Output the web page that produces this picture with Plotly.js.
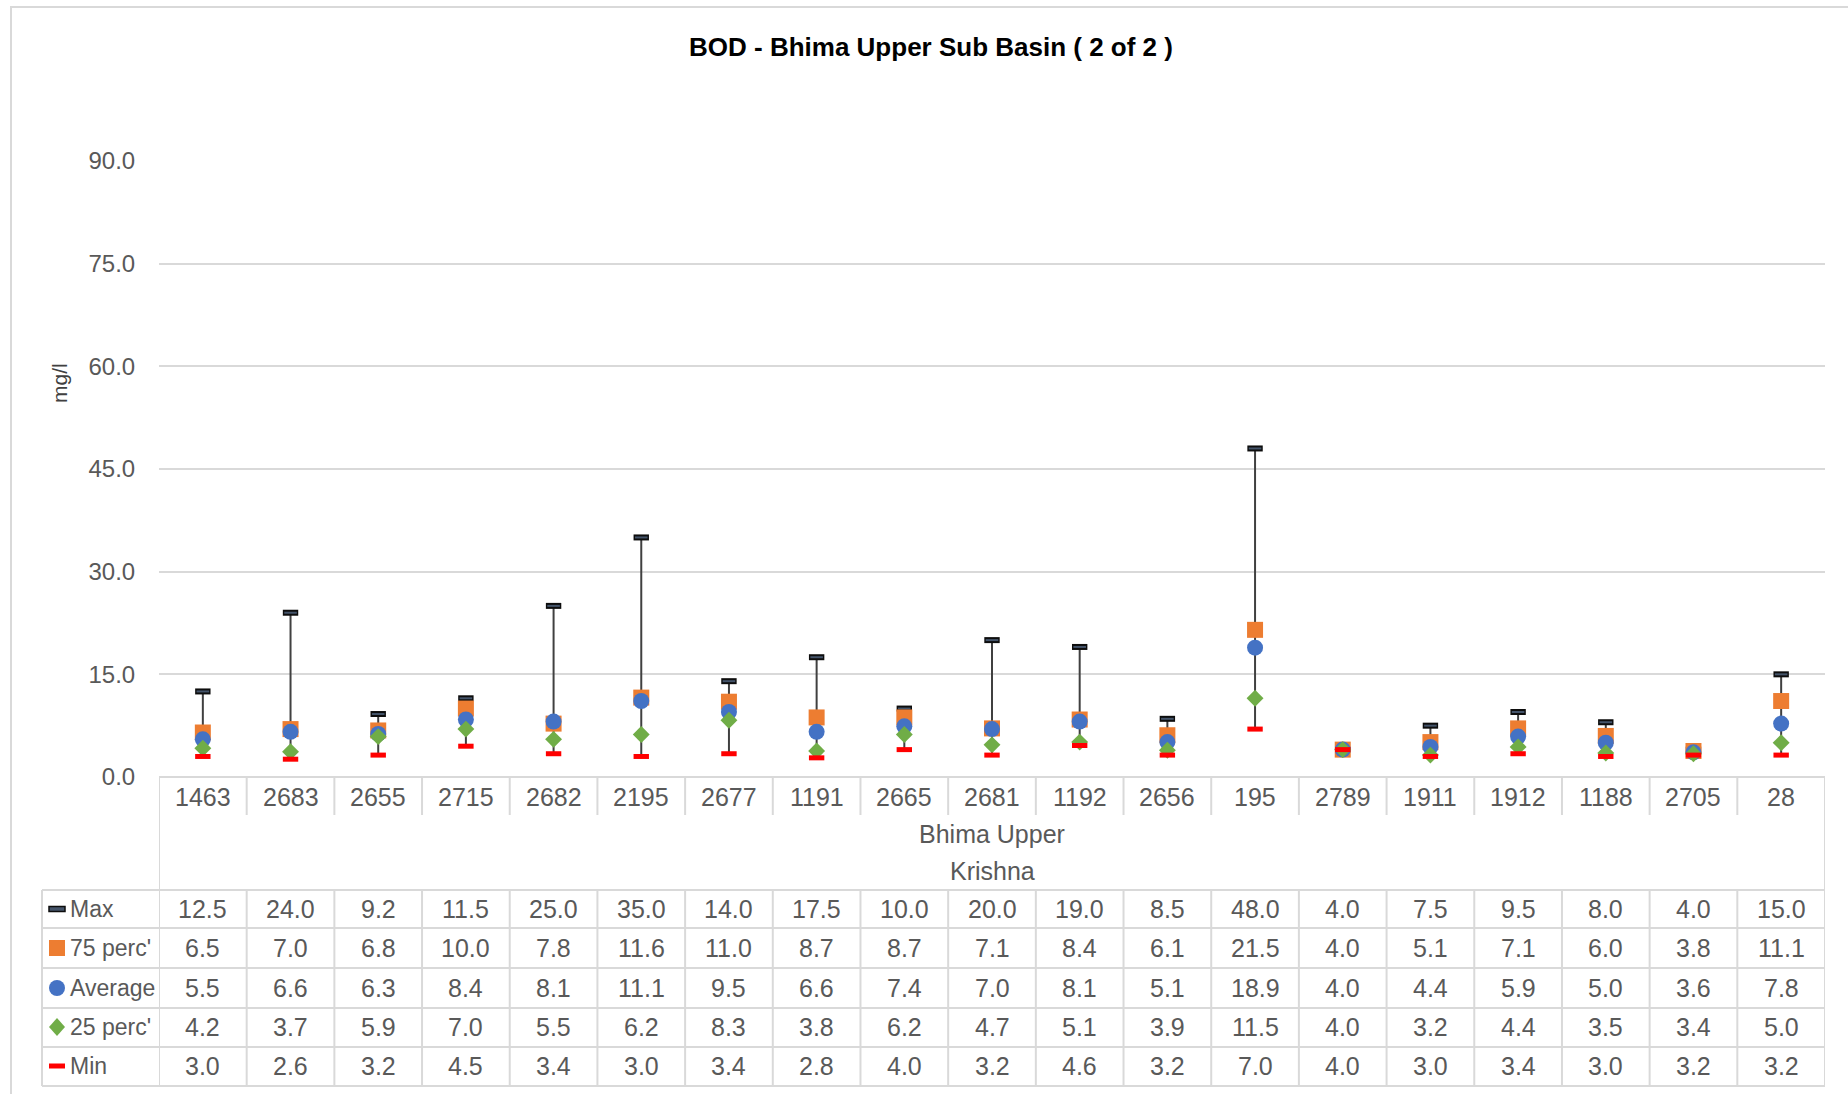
<!DOCTYPE html>
<html>
<head>
<meta charset="utf-8">
<script src="https://cdn.plot.ly/plotly-3.0.1.min.js"></script>
<style>html,body{margin:0;padding:0;background:#fff;}#chart{width:1848px;height:1094px;}</style>
</head>
<body>
<div id="chart"></div>
<script>
const categories = ['1463','2683','2655','2715','2682','2195','2677','1191','2665','2681','1192','2656','195','2789','1911','1912','1188','2705','28'];
const maxVals = [12.5,24.0,9.2,11.5,25.0,35.0,14.0,17.5,10.0,20.0,19.0,8.5,48.0,4.0,7.5,9.5,8.0,4.0,15.0];
const p75Vals = [6.5,7.0,6.8,10.0,7.8,11.6,11.0,8.7,8.7,7.1,8.4,6.1,21.5,4.0,5.1,7.1,6.0,3.8,11.1];
const avgVals = [5.5,6.6,6.3,8.4,8.1,11.1,9.5,6.6,7.4,7.0,8.1,5.1,18.9,4.0,4.4,5.9,5.0,3.6,7.8];
const p25Vals = [4.2,3.7,5.9,7.0,5.5,6.2,8.3,3.8,6.2,4.7,5.1,3.9,11.5,4.0,3.2,4.4,3.5,3.4,5.0];
const minVals = [3.0,2.6,3.2,4.5,3.4,3.0,3.4,2.8,4.0,3.2,4.6,3.2,7.0,4.0,3.0,3.4,3.0,3.2,3.2];
const rowNames = ['Max', "75 perc'", 'Average', "25 perc'", 'Min'];
const groupLabel1 = 'Bhima Upper';
const groupLabel2 = 'Krishna';
const yTicks = [0, 15, 30, 45, 60, 75, 90];
const titleText = 'BOD - Bhima Upper Sub Basin ( 2 of 2 )';
const yTitle = 'mg/l';

// layout geometry (pixels)
const W = 1848, H = 1094;
const L = 159, R = 1825, T = 161, B = 777;
const px = x => (x - L) / (R - L);
const py = y => (B - y) / (B - T);

const FONT = '"Liberation Sans Narrow", "Arial Narrow", "Liberation Sans", Arial, sans-serif';
const TXT = '#595959';
const GRID = '#d9d9d9';
const COLORS = {max: '#0d0d0d', p75: '#ED7D31', avg: '#4472C4', p25: '#70AD47', min: '#FF0000'};
const FS = 25;

const idx = categories.map((c, i) => i);

const traces = [
  {x: idx, y: maxVals, type: 'scatter', mode: 'markers', name: 'Max',
   marker: {symbol: 'line-ew', size: 11, line: {width: 6, color: COLORS.max}},
   error_y: {type: 'data', symmetric: false, array: maxVals.map(() => 0),
             arrayminus: maxVals.map((v, i) => v - minVals[i]), width: 0, thickness: 2, color: '#404040'}},
  {x: idx, y: maxVals, type: 'scatter', mode: 'markers', name: 'Max inner',
   marker: {symbol: 'line-ew', size: 9, line: {width: 2, color: '#44546A'}}},
  {x: idx, y: p75Vals, type: 'scatter', mode: 'markers', name: "75 perc'",
   marker: {symbol: 'square', size: 16, color: COLORS.p75}},
  {x: idx, y: avgVals, type: 'scatter', mode: 'markers', name: 'Average',
   marker: {symbol: 'circle', size: 16, color: COLORS.avg}},
  {x: idx, y: p25Vals, type: 'scatter', mode: 'markers', name: "25 perc'",
   marker: {symbol: 'diamond', size: 13, color: COLORS.p25}},
  {x: idx, y: minVals, type: 'scatter', mode: 'markers', name: 'Min',
   marker: {symbol: 'line-ew', size: 11, line: {width: 5, color: COLORS.min}}}
];

const shapes = [];
const annotations = [];
const lineStyle = {color: GRID, width: 2};

// outer chart border
shapes.push({type: 'rect', xref: 'paper', yref: 'paper', x0: px(11), x1: px(1852), y0: py(7), y1: py(1100), line: {color: GRID, width: 2}, layer: 'below'});

// category row separators
for (let i = 0; i <= categories.length; i++) {
  const edge = (i === 0 || i === categories.length);
  shapes.push({type: 'line', xref: 'x', yref: 'paper', x0: i - 0.5, x1: i - 0.5,
    y0: py(777), y1: py(edge ? 1086 : 815), line: lineStyle});
  if (!edge) {
    shapes.push({type: 'line', xref: 'x', yref: 'paper', x0: i - 0.5, x1: i - 0.5,
      y0: py(890), y1: py(1086), line: lineStyle});
  }
}
// table horizontal lines
const rowLines = [890, 928, 968, 1008, 1047, 1086];
rowLines.forEach(y => shapes.push({type: 'line', xref: 'paper', yref: 'paper', x0: px(42), x1: px(R), y0: py(y), y1: py(y), line: lineStyle}));
shapes.push({type: 'line', xref: 'paper', yref: 'paper', x0: px(42), x1: px(42), y0: py(890), y1: py(1086), line: lineStyle});

// category labels
categories.forEach((c, i) => annotations.push({x: i, y: py(797), xref: 'x', yref: 'paper', text: c, showarrow: false,
  font: {family: FONT, size: FS, color: TXT}, xanchor: 'center', yanchor: 'middle'}));
annotations.push({x: px((L + R) / 2), y: py(834), xref: 'paper', yref: 'paper', text: groupLabel1, showarrow: false,
  font: {family: FONT, size: FS, color: TXT}, xanchor: 'center', yanchor: 'middle'});
annotations.push({x: px((L + R) / 2), y: py(871), xref: 'paper', yref: 'paper', text: groupLabel2, showarrow: false,
  font: {family: FONT, size: FS, color: TXT}, xanchor: 'center', yanchor: 'middle'});

// table rows
const rowData = [maxVals, p75Vals, avgVals, p25Vals, minVals];
const rowCenters = [909, 948, 988, 1027, 1066];
rowData.forEach((arr, r) => {
  arr.forEach((v, i) => annotations.push({x: i, y: py(rowCenters[r]), xref: 'x', yref: 'paper', text: v.toFixed(1), showarrow: false,
    font: {family: FONT, size: FS, color: TXT}, xanchor: 'center', yanchor: 'middle'}));
  annotations.push({x: px(68), y: py(rowCenters[r]), xref: 'paper', yref: 'paper', text: rowNames[r], showarrow: false,
    font: {family: FONT, size: 23, color: TXT}, xanchor: 'left', yanchor: 'middle'});
});

// legend symbols in table
const sx = 57;
// Max dash
shapes.push({type: 'rect', xref: 'paper', yref: 'paper', x0: px(sx - 8), x1: px(sx + 8), y0: py(rowCenters[0] - 2.5), y1: py(rowCenters[0] + 2.5),
  fillcolor: '#44546A', line: {color: COLORS.max, width: 1.5}});
// 75 square
shapes.push({type: 'rect', xref: 'paper', yref: 'paper', x0: px(sx - 8), x1: px(sx + 8), y0: py(rowCenters[1] - 8), y1: py(rowCenters[1] + 8),
  fillcolor: COLORS.p75, line: {width: 0}});
// average circle
shapes.push({type: 'circle', xref: 'paper', yref: 'paper', x0: px(sx - 8), x1: px(sx + 8), y0: py(rowCenters[2] - 8), y1: py(rowCenters[2] + 8),
  fillcolor: COLORS.avg, line: {width: 0}});
// 25 diamond
(function () {
  const cy = rowCenters[3];
  const p = [[sx, cy - 9], [sx + 8, cy], [sx, cy + 9], [sx - 8, cy]].map(([a, b]) => px(a) + ',' + py(b));
  shapes.push({type: 'path', xref: 'paper', yref: 'paper', path: 'M' + p.join('L') + 'Z', fillcolor: COLORS.p25, line: {width: 0}});
})();
// Min dash
shapes.push({type: 'rect', xref: 'paper', yref: 'paper', x0: px(sx - 8), x1: px(sx + 8), y0: py(rowCenters[4] - 2.5), y1: py(rowCenters[4] + 2.5),
  fillcolor: COLORS.min, line: {width: 0}});

// y-axis title
annotations.push({x: px(59), y: py(383), xref: 'paper', yref: 'paper', text: yTitle, showarrow: false, textangle: -90,
  font: {family: FONT, size: 21, color: '#404040'}, xanchor: 'center', yanchor: 'middle'});

const layout = {
  width: W, height: H,
  margin: {l: L, r: W - R, t: T, b: H - B, pad: 0},
  paper_bgcolor: '#fff', plot_bgcolor: '#fff',
  showlegend: false,
  title: {text: '<b>' + titleText + '</b>', x: 931 / W, xref: 'container', xanchor: 'center', y: 1 - 47 / H, yref: 'container', yanchor: 'middle',
          font: {family: FONT, size: 26, color: '#000'}},
  xaxis: {range: [-0.5, categories.length - 0.5], showgrid: false, zeroline: false, showticklabels: false, ticks: '', showline: false, fixedrange: true},
  yaxis: {range: [0, 90], tickvals: yTicks, ticktext: yTicks.map(v => v.toFixed(1)), showgrid: true, gridcolor: GRID, gridwidth: 2,
          zeroline: true, zerolinecolor: GRID, zerolinewidth: 2, showline: false,
          ticks: 'outside', ticklen: 18, tickcolor: 'rgba(0,0,0,0)',
          tickfont: {family: FONT, size: 24, color: TXT}, fixedrange: true},
  shapes: shapes,
  annotations: annotations,
  hovermode: false
};

Plotly.newPlot('chart', traces, layout, {displayModeBar: false, staticPlot: true});
</script>
</body>
</html>
